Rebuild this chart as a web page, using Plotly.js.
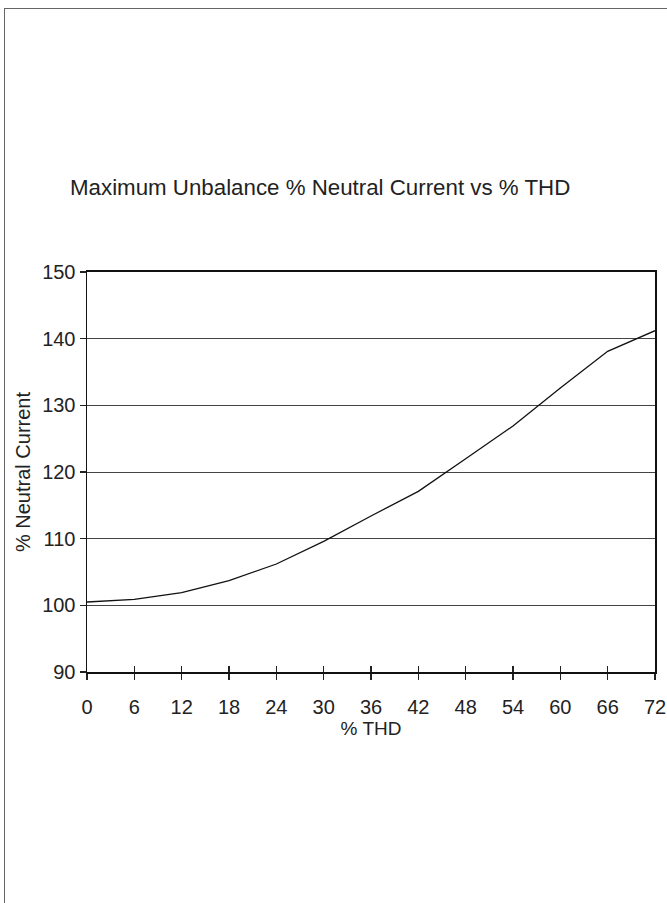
<!DOCTYPE html>
<html>
<head>
<meta charset="utf-8">
<script src="https://cdn.plot.ly/plotly-3.0.1.min.js"></script>
<style>
  html, body { margin: 0; padding: 0; background: #fff; }
  #wrap { position: relative; width: 667px; height: 903px; overflow: hidden; }
  #chart { position: absolute; left: 0; top: 0; width: 667px; height: 903px; }
  #frame { position: absolute; left: 4px; top: 8px; width: 700px; height: 1000px;
           border-left: 1.5px solid #666; border-top: 1.5px solid #666; pointer-events: none; }
</style>
</head>
<body>
<div id="wrap">
  <div id="chart"></div>
  <div id="frame"></div>
</div>
<script>
const chartTitle = 'Maximum Unbalance % Neutral Current vs % THD';
const xTitle = '% THD';
const yTitle = '% Neutral Current';
const thd = [0, 6, 12, 18, 24, 30, 36, 42, 48, 54, 60, 66, 72];
const neutralCurrent = [100.5, 100.9, 101.9, 103.7, 106.2, 109.6, 113.4, 117.1, 122.0, 126.9, 132.6, 138.1, 141.2];
const yTicks = [90, 100, 110, 120, 130, 140, 150];

const fontFam = '"Liberation Sans", Arial, sans-serif';

const traces = [
  {
    x: thd, y: neutralCurrent, type: 'scatter', mode: 'lines',
    line: { color: '#111', width: 1.3 }, hoverinfo: 'skip', showlegend: false
  },
  {
    x: thd, y: neutralCurrent, xaxis: 'x2', type: 'scatter', mode: 'lines',
    line: { color: 'rgba(0,0,0,0)', width: 0 }, hoverinfo: 'skip', showlegend: false
  }
];

const layout = {
  width: 667, height: 903,
  margin: { l: 87, r: 12, t: 272, b: 231 },
  paper_bgcolor: '#fff', plot_bgcolor: '#fff',
  font: { family: fontFam, color: '#222', size: 20 },
  title: {
    text: chartTitle, font: { family: fontFam, size: 22.3, color: '#222' },
    xref: 'container', x: 0.48, xanchor: 'center',
    yref: 'container', y: 1 - 187 / 903, yanchor: 'middle'
  },
  xaxis: {
    range: [0, 72], tickmode: 'array', tickvals: thd, ticktext: thd.map(String),
    ticks: 'outside', ticklen: 6, tickwidth: 1.5, tickcolor: '#222',
    showline: true, linecolor: '#111', linewidth: 2, mirror: true,
    showgrid: false, zeroline: false,
    tickfont: { family: fontFam, size: 20, color: '#222' },
    ticklabelstandoff: 10,
    title: { text: xTitle, font: { family: fontFam, size: 19, color: '#222' }, standoff: 0 }
  },
  xaxis2: {
    overlaying: 'x', matches: 'x', anchor: 'y', side: 'bottom',
    tickmode: 'array', tickvals: thd,
    ticks: 'inside', ticklen: 6, tickwidth: 1.5, tickcolor: '#222',
    showticklabels: false, showgrid: false, zeroline: false, showline: false
  },
  yaxis: {
    range: [90, 150], tickmode: 'array', tickvals: yTicks, ticktext: yTicks.map(String),
    ticks: 'outside', ticklen: 6, tickwidth: 1.5, tickcolor: '#222',
    showline: true, linecolor: '#111', linewidth: 1.5, mirror: true,
    showgrid: true, gridcolor: '#444', gridwidth: 1, zeroline: false,
    tickfont: { family: fontFam, size: 20, color: '#222' },
    title: { text: yTitle, font: { family: fontFam, size: 20, color: '#222' }, standoff: 6 }
  }
};

Plotly.newPlot('chart', traces, layout, { displayModeBar: false, staticPlot: true });
</script>
</body>
</html>
